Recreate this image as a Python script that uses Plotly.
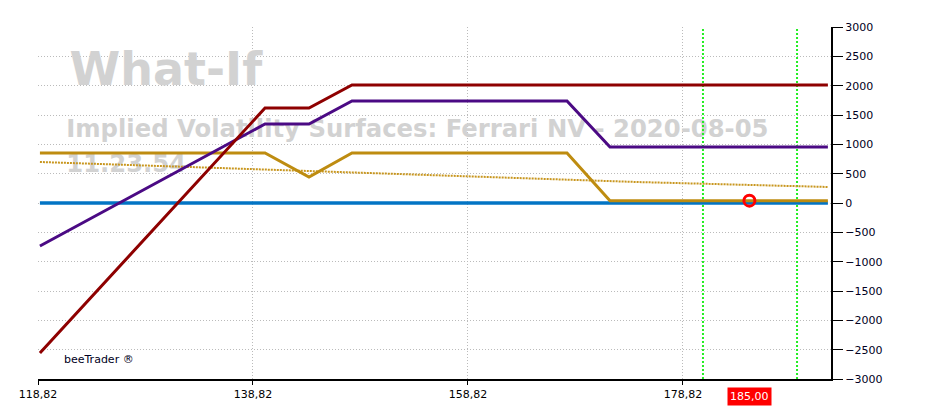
import plotly.graph_objects as go

# ---- data ----
x_red = [119.0, 139.94, 144.03, 148.03, 192.3]
y_red = [-2557, 1619, 1619, 2012, 2012]

x_purple = [119.0, 139.94, 144.03, 148.03, 168.03, 172.03, 192.3]
y_purple = [-733, 1347, 1347, 1739, 1739, 955, 955]

x_gold = [119.0, 139.94, 144.03, 148.03, 168.03, 172.03, 192.3]
y_gold = [853, 853, 443, 853, 853, 40, 40]

x_gold_dot = [119.0, 144.0, 162.0, 174.5, 192.3]
y_gold_dot = [699, 546, 440, 358, 273]

x_zero = [119.0, 192.3]
y_zero = [0, 0]

marker_x = [185.0]
marker_y = [40]

green_lines = [180.68, 189.43]

x_tickvals = [118.82, 138.82, 158.82, 178.82]
x_ticktext = ["118,82", "138,82", "158,82", "178,82"]
y_tickvals = [3000, 2500, 2000, 1500, 1000, 500, 0, -500, -1000, -1500, -2000, -2500, -3000]

title_main = "What-If"
title_sub1 = "Implied Volatility Surfaces: Ferrari NV - 2020-08-05"
title_sub2 = "11.23.54"
current_label = "185,00"
brand = "beeTrader ®"

WM = "#D2D2D2"
fig = go.Figure()

# watermark texts (beneath lines)
fig.add_trace(go.Scatter(x=[121.75], y=[2200], mode="text", text=[title_main],
                         textposition="middle right",
                         textfont=dict(family="DejaVu Sans", size=46, color=WM, weight="bold"),
                         hoverinfo="skip"))
fig.add_trace(go.Scatter(x=[121.45], y=[1230], mode="text", text=[title_sub1],
                         textposition="middle right",
                         textfont=dict(family="DejaVu Sans", size=24.3, color=WM, weight="bold"),
                         hoverinfo="skip"))
fig.add_trace(go.Scatter(x=[121.45], y=[630], mode="text", text=[title_sub2],
                         textposition="middle right",
                         textfont=dict(family="DejaVu Sans", size=24.3, color=WM, weight="bold"),
                         hoverinfo="skip"))

for xv in green_lines:
    fig.add_trace(go.Scatter(x=[xv, xv], y=[-3000, 3000], mode="lines",
                             line=dict(color="#22EE22", width=2, dash="2px,2px"), hoverinfo="skip"))

fig.add_trace(go.Scatter(x=x_zero, y=y_zero, mode="lines", line=dict(color="#0274C4", width=3.5)))
fig.add_trace(go.Scatter(x=x_gold_dot, y=y_gold_dot, mode="lines", line=dict(color="#C8961E", width=2, dash="2px,1px")))
fig.add_trace(go.Scatter(x=x_gold, y=y_gold, mode="lines", line=dict(color="#BE8C10", width=3)))
fig.add_trace(go.Scatter(x=x_purple, y=y_purple, mode="lines", line=dict(color="#4B0A84", width=3)))
fig.add_trace(go.Scatter(x=x_red, y=y_red, mode="lines", line=dict(color="#8E0000", width=3)))
fig.add_trace(go.Scatter(x=marker_x, y=marker_y, mode="markers",
                         marker=dict(symbol="circle", size=11, color="rgba(0,0,0,0)",
                                     line=dict(color="#FF0000", width=3))))

fig.update_layout(
    width=932, height=409,
    margin=dict(l=30, r=109, t=19, b=38),
    paper_bgcolor="white", plot_bgcolor="white",
    showlegend=False,
    font=dict(family="DejaVu Sans", size=11, color="#000000"),
    xaxis=dict(range=[118.82, 192.59], tickvals=x_tickvals, ticktext=x_ticktext,
               showgrid=True, gridcolor="#BBBBBB", griddash="1px,2px", gridwidth=1,
               showline=True, linecolor="black", linewidth=2,
               ticks="outside", ticklen=4, tickcolor="black", zeroline=False,
               tickfont=dict(family="DejaVu Sans", size=11, color="#000000")),
    yaxis=dict(range=[-3000, 3000], tickvals=y_tickvals, side="right",
               showgrid=True, gridcolor="#BBBBBB", griddash="1px,2px", gridwidth=1,
               showline=True, linecolor="black", linewidth=2,
               ticks="outside", ticklen=10, tickcolor="black", zeroline=False,
               tickfont=dict(family="DejaVu Sans", size=11, color="#000022")),
)

fig.add_annotation(x=185.0, xref="x", y=-0.022, yref="paper", yanchor="top",
                   text=current_label, showarrow=False, bgcolor="#FF0000",
                   font=dict(family="DejaVu Sans", size=11, color="white"), borderpad=2)
fig.add_annotation(x=0.03, xref="paper", y=0.03, yref="paper", xanchor="left",
                   text=brand, showarrow=False,
                   font=dict(family="DejaVu Sans", size=11, color="#000022"))

fig.write_html("out.html")
